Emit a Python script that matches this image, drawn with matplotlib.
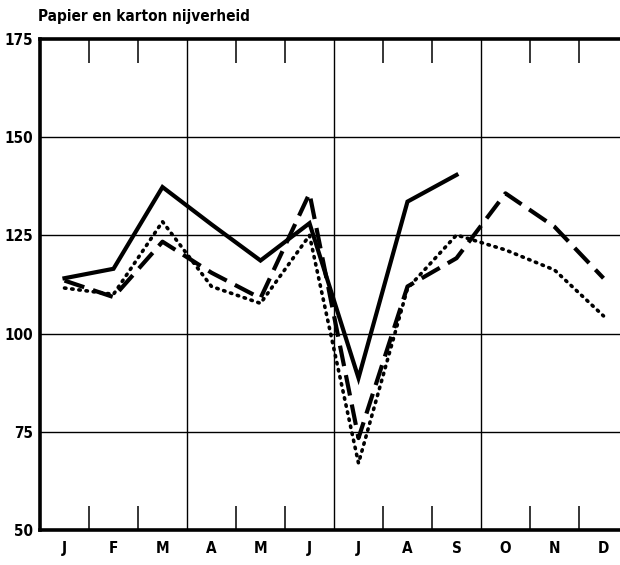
import matplotlib
matplotlib.use("Agg")
import matplotlib.pyplot as plt
import numpy as np

# months and the three series (index)
months = ['J', 'F', 'M', 'A', 'M', 'J', 'J', 'A', 'S', 'O', 'N', 'D']
solid = [114.1, 116.5, 137.3, 127.8, 118.6, 128.1, 88.7, 133.6, 140.4]
dashed = [113.5, 109.3, 123.4, 115.5, 109.0, 135.7, 73.4, 112.0, 119.2, 135.7, 127.2, 114.1]
dotted = [111.6, 110.0, 128.5, 112.0, 107.7, 125.0, 67.0, 111.5, 125.1, 121.3, 116.2, 104.5]
yticks = [50, 75, 100, 125, 150, 175]
title = "Papier en karton nijverheid"

plt.rcParams['font.family'] = ['DejaVu Sans']
plt.rcParams['font.stretch'] = 'condensed'
plt.rcParams['font.weight'] = 'bold'

fig = plt.figure(figsize=(6.2, 5.65), dpi=100)
ax = fig.add_axes([40/620, 35/565, 588/620, 491/565])

x = np.arange(12) + 0.5
ax.plot(x[:len(solid)], solid, color='black', lw=3.0, solid_joinstyle='miter', zorder=3)
ax.plot(x, dashed, color='black', lw=3.0, dashes=(5, 2.2), zorder=3)
ax.plot(x, dotted, color='black', lw=2.6, dashes=(0.4, 1.6), dash_capstyle='round', zorder=3)

ax.set_xlim(0, 12)
ax.set_ylim(50, 175)

# grid
for v in [75, 100, 125, 150]:
    ax.axhline(v, color='black', lw=1.0, zorder=1)
for b in [3, 6, 9]:
    ax.axvline(b, color='black', lw=1.0, zorder=1)

ax.set_xticks(x)
ax.set_xticklabels(months, fontsize=11, fontweight='bold', stretch='condensed')
ax.set_xticks([1, 2, 4, 5, 7, 8, 10, 11], minor=True)
ax.tick_params(axis='x', which='major', length=0, pad=8)
ax.tick_params(axis='x', which='minor', direction='in', length=17, width=1.1,
               top=True, bottom=True)
ax.set_yticks(yticks)
ax.set_yticklabels([str(v) for v in yticks], fontsize=11, fontweight='bold',
                   stretch='condensed')
ax.tick_params(axis='y', length=0, pad=5)

for s in ['left', 'top', 'bottom']:
    ax.spines[s].set_linewidth(2.6)
ax.spines['right'].set_visible(False)

fig.text(38/620, 1 - 16/565, title, fontsize=11, fontweight='bold',
         stretch='condensed', ha='left', va='center')

fig.savefig('out.png', dpi=100)
